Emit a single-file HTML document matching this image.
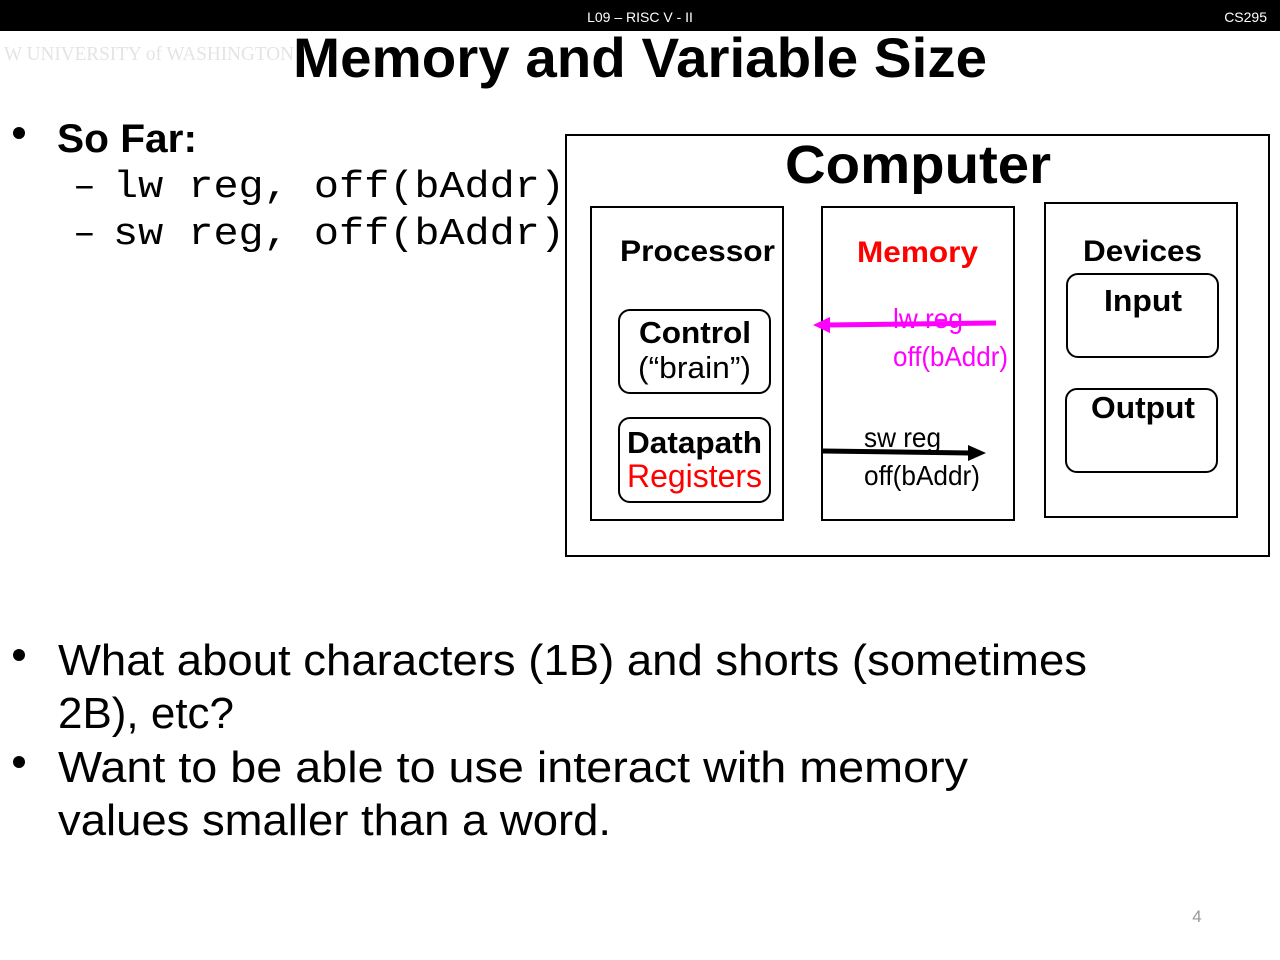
<!DOCTYPE html>
<html><head><meta charset="utf-8"><style>
html,body{margin:0;padding:0;background:#fff}
svg{display:block}
</style></head><body>
<svg width="1280" height="960" viewBox="0 0 1280 960" xmlns="http://www.w3.org/2000/svg">
<rect x="0" y="0" width="1280" height="31" fill="#000"/>
<text x="640" y="22" fill="#fff" font-family="Liberation Sans, sans-serif" font-size="14" text-anchor="middle">L09 – RISC V - II</text>
<text x="1267" y="22" fill="#fff" font-family="Liberation Sans, sans-serif" font-size="14" text-anchor="end">CS295</text>
<text x="4" y="60" fill="#e4e4e4" font-family="Liberation Serif, serif" font-size="20" textLength="290" lengthAdjust="spacingAndGlyphs">W UNIVERSITY of WASHINGTON</text>
<text x="293" y="77" font-family="Liberation Sans, sans-serif" font-weight="bold" font-size="56" textLength="694" lengthAdjust="spacingAndGlyphs">Memory and Variable Size</text>

<circle cx="19" cy="133" r="6" fill="#000"/>
<text x="57" y="152" font-family="Liberation Sans, sans-serif" font-weight="bold" font-size="40" textLength="140" lengthAdjust="spacingAndGlyphs">So Far:</text>
<text x="73" y="197" font-family="Liberation Mono, monospace" font-size="38">–</text>
<text x="113" y="197" font-family="Liberation Mono, monospace" font-size="38" textLength="452" lengthAdjust="spacingAndGlyphs">lw reg, off(bAddr)</text>
<text x="73" y="244" font-family="Liberation Mono, monospace" font-size="38">–</text>
<text x="113" y="244" font-family="Liberation Mono, monospace" font-size="38" textLength="452" lengthAdjust="spacingAndGlyphs">sw reg, off(bAddr)</text>

<g font-family="Liberation Sans, sans-serif" font-size="44">
<circle cx="19" cy="655" r="6" fill="#000"/>
<text x="58" y="675" textLength="1029" lengthAdjust="spacingAndGlyphs">What about characters (1B) and shorts (sometimes</text>
<text x="58" y="728" textLength="176" lengthAdjust="spacingAndGlyphs">2B), etc?</text>
<circle cx="19" cy="762" r="6" fill="#000"/>
<text x="58" y="782" textLength="910" lengthAdjust="spacingAndGlyphs">Want to be able to use interact with memory</text>
<text x="58" y="835" textLength="553" lengthAdjust="spacingAndGlyphs">values smaller than a word.</text>
</g>
<text x="1197" y="922" fill="#999" font-family="Liberation Sans, sans-serif" font-size="17" text-anchor="middle">4</text>

<g fill="none" stroke="#000" stroke-width="2">
<rect x="566" y="135" width="703" height="421"/>
<rect x="591" y="207" width="192" height="313"/>
<rect x="822" y="207" width="192" height="313"/>
<rect x="1045" y="203" width="192" height="314"/>
<rect x="619" y="310" width="151" height="83" rx="11"/>
<rect x="619" y="418" width="151" height="84" rx="11"/>
<rect x="1067" y="274" width="151" height="83" rx="11"/>
<rect x="1066" y="389" width="151" height="83" rx="11"/>
</g>
<g font-family="Liberation Sans, sans-serif" font-weight="bold">
<text x="785" y="183" font-size="54" textLength="266" lengthAdjust="spacingAndGlyphs">Computer</text>
<text x="620" y="261" font-size="30" textLength="155" lengthAdjust="spacingAndGlyphs">Processor</text>
<text x="857" y="262" font-size="30" fill="#f00" textLength="121" lengthAdjust="spacingAndGlyphs">Memory</text>
<text x="1083" y="261" font-size="30" textLength="119" lengthAdjust="spacingAndGlyphs">Devices</text>
<text x="639" y="343" font-size="31" textLength="112" lengthAdjust="spacingAndGlyphs">Control</text>
<text x="627" y="453" font-size="31" textLength="135" lengthAdjust="spacingAndGlyphs">Datapath</text>
<text x="1104" y="311" font-size="31" textLength="78" lengthAdjust="spacingAndGlyphs">Input</text>
<text x="1091" y="418" font-size="31" textLength="104" lengthAdjust="spacingAndGlyphs">Output</text>
</g>
<g font-family="Liberation Sans, sans-serif">
<text x="638" y="378" font-size="31" textLength="113" lengthAdjust="spacingAndGlyphs">(“brain”)</text>
<text x="627" y="487" font-size="32" fill="#f00" textLength="135" lengthAdjust="spacingAndGlyphs">Registers</text>
<text x="893" y="328" font-size="28" fill="#f0f" textLength="70" lengthAdjust="spacingAndGlyphs">lw reg</text>
<text x="893" y="366" font-size="28" fill="#f0f" textLength="115" lengthAdjust="spacingAndGlyphs">off(bAddr)</text>
<text x="864" y="447" font-size="28" textLength="77" lengthAdjust="spacingAndGlyphs">sw reg</text>
<text x="864" y="485" font-size="28" textLength="116" lengthAdjust="spacingAndGlyphs">off(bAddr)</text>
</g>
<line x1="996" y1="323" x2="826" y2="325" stroke="#f0f" stroke-width="5"/>
<polygon points="813,325 830,317 830,333" fill="#f0f"/>
<line x1="823" y1="451" x2="970" y2="453" stroke="#000" stroke-width="5"/>
<polygon points="986,453 968,445 968,461" fill="#000"/>
</svg>
</body></html>
